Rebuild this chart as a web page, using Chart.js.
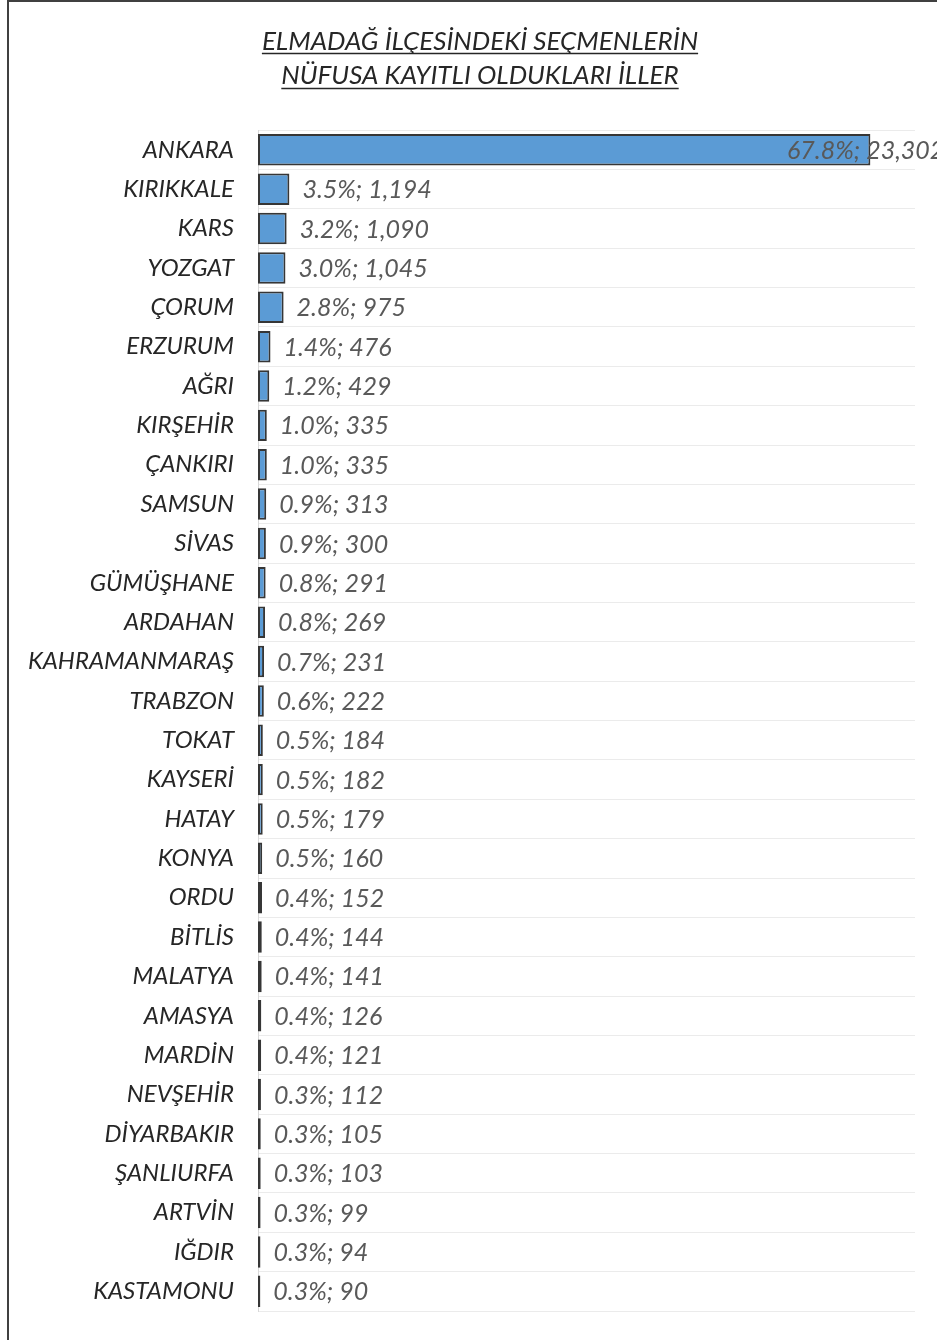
<!DOCTYPE html>
<html>
<head>
<meta charset="utf-8">
<script src="https://cdn.jsdelivr.net/npm/chart.js@4/dist/chart.umd.min.js"></script>
<style>
  html, body { margin: 0; padding: 0; background: #ffffff; overflow: hidden; }
  #frame { position: absolute; left: 7px; top: 0px; width: 980px; height: 1400px; border: 2px solid #404040; box-sizing: border-box; }
  #c { position: absolute; left: 0; top: 0; }
</style>
</head>
<body>
<div id="frame"></div>
<canvas id="c" width="960" height="1340"></canvas>
<script>
const titleLines = ["ELMADAĞ İLÇESİNDEKİ SEÇMENLERİN", "NÜFUSA KAYITLI OLDUKLARI İLLER"];
const provinces = ["ANKARA","KIRIKKALE","KARS","YOZGAT","ÇORUM","ERZURUM","AĞRI","KIRŞEHİR","ÇANKIRI","SAMSUN","SİVAS","GÜMÜŞHANE","ARDAHAN","KAHRAMANMARAŞ","TRABZON","TOKAT","KAYSERİ","HATAY","KONYA","ORDU","BİTLİS","MALATYA","AMASYA","MARDİN","NEVŞEHİR","DİYARBAKIR","ŞANLIURFA","ARTVİN","IĞDIR","KASTAMONU"];
const voters = [23302,1194,1090,1045,975,476,429,335,335,313,300,291,269,231,222,184,182,179,160,152,144,141,126,121,112,105,103,99,94,90];
const shares = [67.8,3.5,3.2,3.0,2.8,1.4,1.2,1.0,1.0,0.9,0.9,0.8,0.8,0.7,0.6,0.5,0.5,0.5,0.5,0.4,0.4,0.4,0.4,0.4,0.3,0.3,0.3,0.3,0.3,0.3];
const axisMax = 25000;

const FONT = "Lato";
const labelFont = "italic 25px " + FONT;

const underlinePlugin = {
  id: 'titleUnderline',
  afterDraw(chart) {
    const tb = chart.titleBlock;
    if (!tb) return;
    const ctx = chart.ctx;
    const opts = chart.options.plugins.title;
    const size = opts.font.size;
    const lh = size * opts.font.lineHeight;
    ctx.save();
    ctx.font = "italic " + size + "px " + FONT;
    ctx.strokeStyle = "#262626";
    ctx.lineWidth = 1.5;
    const cx = (tb.left + tb.right) / 2;
    const top = tb.top + opts.padding.top;
    titleLines.forEach((t, i) => {
      const w = ctx.measureText(t).width;
      const y = Math.round(top + lh * i + lh / 2 + size * 0.45) + 0.5;
      ctx.beginPath();
      ctx.moveTo(cx - w / 2, y);
      ctx.lineTo(cx + w / 2, y);
      ctx.stroke();
    });
    ctx.restore();
  }
};

const dataLabelPlugin = {
  id: 'barLabels',
  afterDatasetsDraw(chart) {
    const ctx = chart.ctx;
    const meta = chart.getDatasetMeta(0);
    ctx.save();
    ctx.font = labelFont;
    ctx.fillStyle = "#595959";
    ctx.textBaseline = "middle";
    ctx.textAlign = "left";
    const limit = 978;
    meta.data.forEach((bar, i) => {
      const txt = shares[i].toFixed(1) + "%; " + voters[i].toLocaleString('en-US');
      const w = ctx.measureText(txt).width;
      let x = bar.x + 13;
      if (x + w > limit) x = 787;
      ctx.fillText(txt, x, bar.y + 1);
    });
    ctx.restore();
  }
};

new Chart(document.getElementById('c'), {
  type: 'bar',
  data: {
    labels: provinces,
    datasets: [{
      data: voters,
      backgroundColor: '#5B9BD5',
      borderColor: '#363636',
      borderWidth: 2,
      borderSkipped: false,
      barPercentage: 0.8,
      categoryPercentage: 1.0
    }]
  },
  options: {
    indexAxis: 'y',
    responsive: false,
    devicePixelRatio: 1,
    animation: false,
    layout: { padding: { top: 0, right: 0, bottom: 29, left: 0 } },
    plugins: {
      legend: { display: false },
      tooltip: { enabled: false },
      title: {
        display: true,
        text: titleLines,
        color: '#262626',
        font: { family: FONT, size: 26, style: 'italic', weight: 'normal', lineHeight: 1.33 },
        padding: { top: 24, bottom: 37 }
      }
    },
    scales: {
      x: {
        display: false,
        min: 0,
        max: axisMax,
        grid: { display: false }
      },
      y: {
        afterFit(scale) { scale.width = 258; scale.paddingTop = 0; scale.paddingBottom = 0; },
        grid: { color: '#ebebeb', lineWidth: 1, drawTicks: false, offset: true },
        border: { color: '#d9d9d9', width: 1 },
        ticks: { color: '#262626', font: { family: FONT, size: 24, style: 'italic' }, padding: 24, autoSkip: false }
      },
      yRightSpace: {
        type: 'category',
        position: 'right',
        afterFit(scale) { scale.width = 45; scale.paddingTop = 0; scale.paddingBottom = 0; },
        grid: { display: false, drawTicks: false },
        border: { display: false },
        ticks: { display: false }
      }
    }
  },
  plugins: [underlinePlugin, dataLabelPlugin]
});
</script>
</body>
</html>
